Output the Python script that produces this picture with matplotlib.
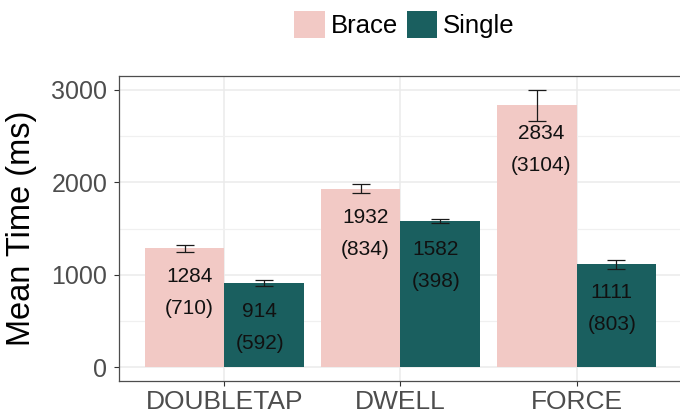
import numpy as np
import matplotlib
matplotlib.use("Agg")
import matplotlib.pyplot as plt
from matplotlib.patches import Patch

plt.rcParams["font.family"] = ["Liberation Sans", "DejaVu Sans"]

# ----- data -----
techniques = ["DOUBLETAP", "DWELL", "FORCE"]
brace_mean = [1284, 1932, 2834]
brace_sd = [710, 834, 3104]
brace_err = [42, 48, 170]
single_mean = [914, 1582, 1111]
single_sd = [592, 398, 803]
single_err = [34, 23, 45]

BRACE_C = "#F2C9C5"
SINGLE_C = "#1A5F5F"

fig = plt.figure(figsize=(6.8, 4.18), dpi=100)
ax = fig.add_axes([0.1746, 0.0885, 0.8287, 0.7304])

x = np.arange(1, len(techniques) + 1)
bw = 0.45

ax.bar(x - bw / 2, brace_mean, width=bw, color=BRACE_C, zorder=2)
ax.bar(x + bw / 2, single_mean, width=bw, color=SINGLE_C, zorder=2)

for xs, m, e in [(x - bw / 2, brace_mean, brace_err), (x + bw / 2, single_mean, single_err)]:
    ax.errorbar(xs, m, yerr=e, fmt="none", ecolor="#1a1a1a", elinewidth=0.9,
                capsize=6.5, capthick=0.9, zorder=4)

# value labels: mean and (sd) inside bar tops
for xs, m, s in [(x - 0.2, brace_mean, brace_sd), (x + 0.2, single_mean, single_sd)]:
    for xi, mi, si in zip(xs, m, s):
        ax.annotate(f"{mi}", (xi, mi), xytext=(0, -20.5), textcoords="offset points",
                    ha="center", va="center", fontsize=15, color="#111111", zorder=5)
        ax.annotate(f"({si})", (xi, mi), xytext=(0, -43.5), textcoords="offset points",
                    ha="center", va="center", fontsize=15, color="#111111", zorder=5)

ax.set_xlim(0.4, 3.6)
ax.set_ylim(-150, 3154)
ax.set_xticks(x)
ax.set_xticklabels(techniques)
ax.set_yticks([0, 1000, 2000, 3000])
ax.set_yticks([500, 1500, 2500], minor=True)

ax.set_axisbelow(True)
ax.grid(which="major", color="#EBEBEB", linewidth=1.1, zorder=0)
ax.grid(which="minor", axis="y", color="#F0F0F0", linewidth=0.9, zorder=0)
ax.tick_params(axis="both", which="major", length=3.6, width=0.8, color="#333333",
               labelcolor="#4D4D4D")
ax.tick_params(axis="y", labelsize=18, pad=4.5)
ax.tick_params(axis="x", labelsize=19, pad=3)
ax.tick_params(which="minor", length=0)
for sp in ax.spines.values():
    sp.set_color("#4D4D4D")
    sp.set_linewidth(0.9)

ax.set_ylabel("Mean Time (ms)", fontsize=23.5, color="black", va="center")
ax.yaxis.set_label_coords(-0.1734, 0.5)

handles = [Patch(facecolor=BRACE_C, label="Brace"), Patch(facecolor=SINGLE_C, label="Single")]
fig.legend(handles=handles, loc="center", bbox_to_anchor=(0.595, 0.9405), ncol=2,
           frameon=False, fontsize=18.5, handlelength=1.2, handleheight=1.2,
           handletextpad=0.22, columnspacing=0.33, borderpad=0)

fig.savefig("out.png", dpi=100, facecolor="white")
